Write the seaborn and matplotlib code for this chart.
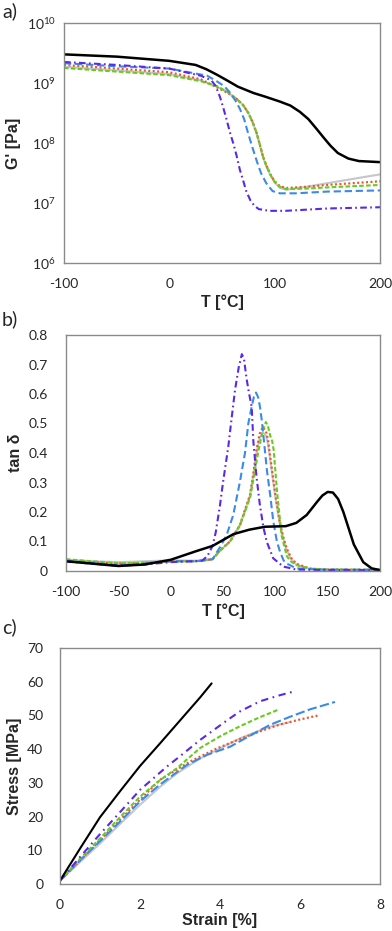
import matplotlib
matplotlib.use("Agg")
import matplotlib.pyplot as plt
import seaborn as sns
from matplotlib.ticker import FixedLocator, NullLocator, FuncFormatter

# ---- a) storage modulus G' [Pa] vs T [°C]
t_black_a = [-100, -50, 0, 25, 35, 45, 55, 65, 80, 90, 105, 115, 124, 132, 140, 147, 153, 160, 170, 180, 200]
g_black = [3.0e9, 2.75e9, 2.34e9, 2.0e9, 1.7e9, 1.38e9, 1.1e9, 8.7e8, 6.8e8, 6.0e8, 4.9e8, 4.2e8, 3.3e8,
           2.5e8, 1.7e8, 1.2e8, 9.0e7, 6.8e7, 5.5e7, 5.0e7, 4.8e7]
t_dashdot_a = [-100, -50, 0, 30, 40, 44, 48, 51, 54.5, 58, 61, 64, 67, 70, 73, 77, 81, 85, 95, 110, 150, 200]
g_dashdot = [2.24e9, 2.0e9, 1.74e9, 1.32e9, 1.1e9, 8.9e8, 5.9e8, 4.0e8, 2.4e8, 1.41e8, 9.5e7, 6.0e7, 3.55e7,
             2.4e7, 1.58e7, 1.1e7, 8.9e6, 7.9e6, 7.4e6, 7.4e6, 8.1e6, 8.5e6]
t_blue_a = [-100, -50, 0, 36, 45, 52, 58, 63, 67, 71, 75, 79, 83, 87, 92, 98, 105, 120, 150, 200]
g_blue = [2.14e9, 1.9e9, 1.74e9, 1.32e9, 1.07e9, 8.9e8, 6.8e8, 5.0e8, 3.7e8, 2.5e8, 1.41e8, 8.3e7, 5.0e7,
          3.16e7, 2.14e7, 1.58e7, 1.45e7, 1.45e7, 1.55e7, 1.62e7]
t_rgg_a = [-100, -50, 0, 30, 45, 55, 64, 70, 75, 79, 83, 86, 89, 92, 96, 100, 105, 111, 130, 150, 200]
g_red = [2.0e9, 1.74e9, 1.51e9, 1.15e9, 8.5e8, 6.9e8, 5.4e8, 4.3e8, 3.16e8, 2.24e8, 1.45e8, 9.3e7, 5.9e7,
         4.3e7, 3.0e7, 2.3e7, 1.9e7, 1.78e7, 1.86e7, 2.0e7, 2.3e7]
g_green = [1.78e9, 1.55e9, 1.35e9, 1.07e9, 8.9e8, 7.1e8, 5.4e8, 4.3e8, 3.16e8, 2.24e8, 1.45e8, 9.3e7, 5.9e7,
           4.2e7, 2.95e7, 2.24e7, 1.86e7, 1.7e7, 1.74e7, 1.82e7, 2.0e7]
g_gray = [1.86e9, 1.62e9, 1.41e9, 1.1e9, 8.7e8, 7.1e8, 5.4e8, 4.3e8, 3.16e8, 2.24e8, 1.41e8, 9.1e7, 5.75e7,
          4.1e7, 2.9e7, 2.2e7, 1.78e7, 1.66e7, 1.86e7, 2.14e7, 3.0e7]

# ---- b) tan delta vs T [°C]
t_black_b = [-100, -75, -50, -25, 0, 25, 40, 50, 60, 75, 90, 110, 120, 130, 140, 145, 150, 155, 160, 165, 170,
             175, 184, 192, 200]
tan_black = [0.033, 0.025, 0.017, 0.022, 0.038, 0.068, 0.085, 0.105, 0.125, 0.14, 0.15, 0.152, 0.163, 0.19,
             0.235, 0.256, 0.268, 0.266, 0.244, 0.2, 0.145, 0.09, 0.03, 0.009, 0.003]
t_dashdot_b = [-100, -75, -50, -25, 0, 20, 30, 35, 40, 43, 47, 50, 55, 58.3, 61.5, 65, 68, 70, 72.6, 75, 77.4, 79,
               82, 85, 88.5, 91.7, 98, 107.6, 120, 150, 200]
tan_dashdot = [0.032, 0.025, 0.018, 0.022, 0.03, 0.033, 0.035, 0.05, 0.085, 0.13, 0.22, 0.3, 0.42, 0.52, 0.614,
               0.69, 0.735, 0.72, 0.65, 0.6, 0.557, 0.44, 0.32, 0.23, 0.15, 0.1, 0.043, 0.015, 0.005, 0.003, 0.003]
t_blue_b = [-100, -75, -50, -25, 0, 25, 40, 47, 53.5, 59.8, 66.2, 71, 74.2, 77.4, 79.5, 81.5, 83.5, 85.3, 87, 89,
            92, 95, 98, 101.5, 104.5, 108, 111, 120, 140, 200]
tan_blue = [0.035, 0.028, 0.02, 0.025, 0.033, 0.033, 0.04, 0.08, 0.122, 0.19, 0.303, 0.4, 0.5, 0.557, 0.59,
            0.605, 0.59, 0.557, 0.512, 0.445, 0.34, 0.26, 0.17, 0.1, 0.065, 0.035, 0.025, 0.009, 0.005, 0.004]
t_red_b = [-100, -75, -50, -25, 0, 25, 40, 47, 56.7, 66.2, 75.8, 79, 82, 85, 88, 91, 93, 95, 100, 104.5, 108,
           111, 115, 120, 133, 150, 200]
tan_red = [0.035, 0.03, 0.025, 0.028, 0.033, 0.033, 0.04, 0.07, 0.1, 0.156, 0.258, 0.33, 0.41, 0.465, 0.488,
           0.475, 0.445, 0.39, 0.26, 0.16, 0.11, 0.075, 0.045, 0.025, 0.008, 0.005, 0.004]
tan_gray = [0.038, 0.033, 0.03, 0.033, 0.036, 0.035, 0.04, 0.068, 0.1, 0.155, 0.255, 0.325, 0.4, 0.45, 0.47,
            0.46, 0.43, 0.38, 0.25, 0.155, 0.105, 0.07, 0.04, 0.022, 0.007, 0.004, 0.003]
t_green_b = [-100, -75, -50, -25, 0, 25, 40, 47, 56.7, 66.2, 76, 80, 84, 87, 89, 91, 93, 95, 97, 98.4, 101.6,
             106, 111, 115, 120, 133, 150, 200]
tan_green = [0.04, 0.033, 0.026, 0.028, 0.033, 0.033, 0.04, 0.068, 0.1, 0.155, 0.25, 0.33, 0.41, 0.46, 0.49,
             0.505, 0.49, 0.46, 0.44, 0.41, 0.27, 0.12, 0.05, 0.032, 0.02, 0.008, 0.005, 0.004]

# ---- c) stress [MPa] vs strain [%]
e_black = [0, 0.5, 1, 1.5, 2, 2.5, 3, 3.5, 3.79]
s_black = [1, 10.5, 19.8, 27.5, 35, 41.7, 48.5, 55.3, 59.5]
e_dashdot = [0, 0.5, 1, 1.5, 2, 2.67, 3, 3.5, 4.17, 4.5, 5, 5.5, 5.875]
s_dashdot = [1, 8, 14.8, 21.3, 27.9, 34.8, 37.9, 42.7, 48.5, 51.2, 54.2, 56.0, 57.2]
e_green = [0, 0.5, 1, 1.5, 2, 2.5, 2.92, 3.5, 4, 4.5, 5, 5.48]
s_green = [1, 7.5, 13.5, 19.8, 25.9, 30.8, 34.3, 40.3, 43.8, 46.8, 49.5, 51.8]
e_red = [0, 0.5, 1, 1.5, 2, 2.5, 3.25, 3.92, 4.5, 5, 5.5, 6, 6.5]
s_red = [1, 7, 13, 19, 25, 30.9, 36.3, 40.2, 43, 45.3, 47.3, 48.8, 50.1]
e_blue = [0, 0.5, 1, 1.5, 2, 2.5, 3.17, 3.67, 4.25, 4.75, 5.25, 5.75, 6.25, 6.875]
s_blue = [1, 7, 12.7, 18.5, 24.5, 29.5, 35.3, 38.3, 40.7, 44, 47.2, 49.6, 51.8, 54]
e_gray = [0, 0.5, 1, 1.5, 2, 2.5, 2.92, 3.5, 3.83, 4.5, 5.2, 5.75]
s_gray = [1, 6.5, 12, 17.8, 23.5, 28.8, 32.8, 37.2, 39.2, 43.2, 46.5, 48]

# line styles per sample
C_BLACK, C_DD, C_BLUE, C_RED, C_GREEN, C_GRAY = "#000000", "#5a28eb", "#3b8be6", "#f2552c", "#66cc1f", "#c3c8cc"
LS_DD = (0, (3.2, 1.6, 0.8, 1.6))
LS_BLUE = (0, (3.5, 1.8))
LS_GREEN = (0, (2.2, 1.1))
LS_RED = (0, (0.9, 1.1))

sns.set_style("white")
plt.rcParams["font.family"] = ["Lato", "DejaVu Sans"]
plt.rcParams["mathtext.fontset"] = "custom"
plt.rcParams["mathtext.rm"] = "Lato"
plt.rcParams["axes.unicode_minus"] = False

W, H = 392, 931
fig = plt.figure(figsize=(W / 100, H / 100), dpi=100)


def box(l, r, t, b):
    return [l / W, 1 - b / H, (r - l) / W, (b - t) / H]


ax_a = fig.add_axes(box(64, 380, 23, 263))
ax_b = fig.add_axes(box(66, 380, 335, 571))
ax_c = fig.add_axes(box(60, 380, 648, 884))


def line(ax, x, y, color, ls="-", lw=1.5):
    sns.lineplot(x=x, y=y, ax=ax, color=color, linestyle=ls, linewidth=lw, sort=False, estimator=None)


# a)
line(ax_a, t_rgg_a, g_gray, C_GRAY, "-", 1.5)
line(ax_a, t_rgg_a, g_red, C_RED, LS_RED, 1.6)
line(ax_a, t_rgg_a, g_green, C_GREEN, LS_GREEN, 1.5)
line(ax_a, t_blue_a, g_blue, C_BLUE, LS_BLUE, 1.5)
line(ax_a, t_dashdot_a, g_dashdot, C_DD, LS_DD, 1.5)
line(ax_a, t_black_a, g_black, C_BLACK, "-", 1.8)
ax_a.set_yscale("log")
ax_a.set_ylim(1e6, 1e10)
ax_a.set_xlim(-100, 200)
ax_a.xaxis.set_major_locator(FixedLocator([-100, 0, 100, 200]))
ax_a.yaxis.set_major_locator(FixedLocator([1e6, 1e7, 1e8, 1e9, 1e10]))
ax_a.yaxis.set_minor_locator(NullLocator())

# b)
line(ax_b, t_red_b, tan_gray, C_GRAY, "-", 1.5)
line(ax_b, t_red_b, tan_red, C_RED, LS_RED, 1.6)
line(ax_b, t_green_b, tan_green, C_GREEN, LS_GREEN, 1.5)
line(ax_b, t_blue_b, tan_blue, C_BLUE, LS_BLUE, 1.5)
line(ax_b, t_dashdot_b, tan_dashdot, C_DD, LS_DD, 1.5)
line(ax_b, t_black_b, tan_black, C_BLACK, "-", 1.8)
ax_b.set_ylim(0, 0.8)
ax_b.set_xlim(-100, 200)
ax_b.xaxis.set_major_locator(FixedLocator([-100, -50, 0, 50, 100, 150, 200]))
ax_b.yaxis.set_major_locator(FixedLocator([0, 0.1, 0.2, 0.3, 0.4, 0.5, 0.6, 0.7, 0.8]))
ax_b.yaxis.set_major_formatter(FuncFormatter(lambda v, p: f"{v:g}"))

# c)
line(ax_c, e_gray, s_gray, C_GRAY, "-", 1.5)
line(ax_c, e_red, s_red, C_RED, LS_RED, 1.6)
line(ax_c, e_blue, s_blue, C_BLUE, (0, (4.5, 1.6)), 1.5)
line(ax_c, e_green, s_green, C_GREEN, LS_GREEN, 1.5)
line(ax_c, e_dashdot, s_dashdot, C_DD, (0, (3.5, 2.2, 0.8, 2.2)), 1.5)
line(ax_c, e_black, s_black, C_BLACK, "-", 1.5)
ax_c.set_xlim(0, 8)
ax_c.set_ylim(0, 70)
ax_c.xaxis.set_major_locator(FixedLocator([0, 2, 4, 6, 8]))
ax_c.yaxis.set_major_locator(FixedLocator(list(range(0, 71, 10))))

lab_font = dict(family=["Liberation Sans", "DejaVu Sans"], weight="bold", size=11.5)
specs = [
    (ax_a, "T [°C]", "G' [Pa]", -0.129, -0.136, 3),
    (ax_b, "T [°C]", "tan δ", -0.136, -0.137, 10),
    (ax_c, "Strain [%]", "Stress [MPa]", -0.123, -0.119, 9),
]
for ax, xl, yl, xly, ylx, ypad in specs:
    ax.set_xlabel(xl, fontdict=lab_font)
    ax.set_ylabel(yl, fontdict=lab_font)
    ax.xaxis.set_label_coords(0.5, xly)
    ax.yaxis.set_label_coords(ylx, 0.5)
    for sp in ax.spines.values():
        sp.set_color("#8a8a8a")
        sp.set_linewidth(1.0)
    ax.tick_params(axis="x", direction="out", length=3, width=0.8, color="#8a8a8a",
                   labelsize=10, pad=8)
    ax.tick_params(axis="y", direction="out", length=3, width=0.8, color="#8a8a8a",
                   labelsize=10, pad=ypad)

fig.text(2 / W, 1 - 2 / H, "a)", fontsize=14, va="top", ha="left")
fig.text(2 / W, 1 - 310 / H, "b)", fontsize=14, va="top", ha="left")
fig.text(2 / W, 1 - 618 / H, "c)", fontsize=14, va="top", ha="left")

fig.savefig("out.png", dpi=100)
